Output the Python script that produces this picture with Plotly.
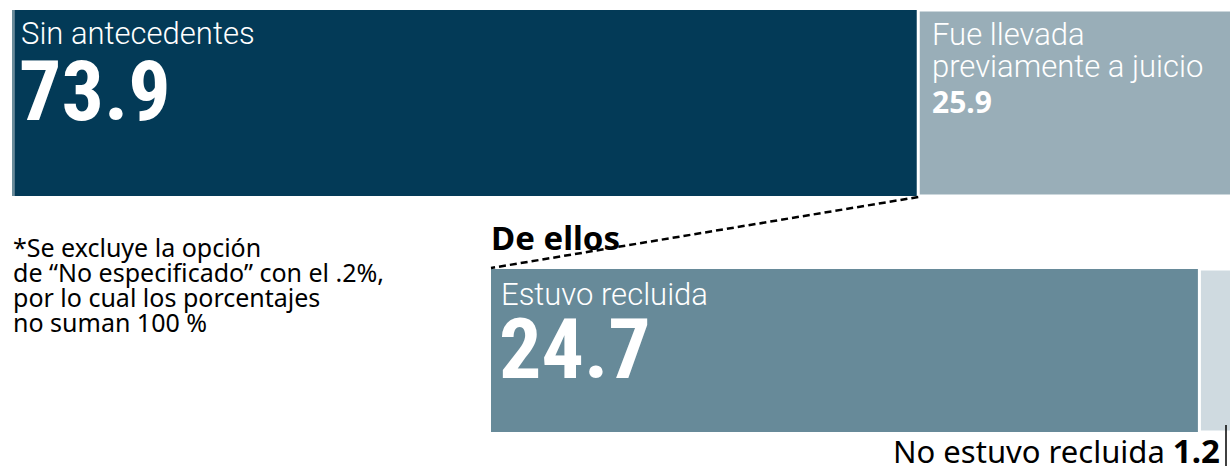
import plotly.graph_objects as go

W, H = 1230, 476

# ---- data ----
top_labels = ["No especificado", "Sin antecedentes", "Fue llevada previamente a juicio"]
top_values = [0.2, 73.9, 25.9]
top_colors = ["#6b8c9a", "#033a57", "#99aeb8"]

sub_labels = ["Estuvo recluida", "No estuvo recluida"]
sub_values = [24.7, 1.2]
sub_colors = ["#678a99", "#cfdae0"]

note_lines = ["*Se excluye la opción",
              "de “No especificado” con el .2%,",
              "por lo cual los porcentajes",
              "no suman 100 %"]

# ---- layout geometry (pixels) ----
top_x0, top_scale = 12, 12.23      # px of zero, px per unit
sub_x0, sub_scale = 491, 28.68
top_y = (10, 196)
sub_y = (269, 432)

def px(x):
    return x / W

def py(y):
    return 1 - y / H

fig = go.Figure()

base = 0
for lab, v, c in zip(top_labels, top_values, top_colors):
    lw = 3 if lab.startswith("Fue") else 0
    fig.add_trace(go.Bar(y=[0], x=[v], base=[base], orientation="h", width=1,
                         marker=dict(color=c, line=dict(color="white", width=lw)),
                         name=lab, xaxis="x", yaxis="y", hoverinfo="name+x"))
    base += v

base = 0
for lab, v, c in zip(sub_labels, sub_values, sub_colors):
    lw = 3 if lab.startswith("No") else 0
    fig.add_trace(go.Bar(y=[0], x=[v], base=[base], orientation="h", width=1,
                         marker=dict(color=c, line=dict(color="white", width=lw)),
                         name=lab, xaxis="x2", yaxis="y2", hoverinfo="name+x"))
    base += v

ax_common = dict(showgrid=False, zeroline=False, showticklabels=False, ticks="",
                 showline=False, fixedrange=True)
fig.update_layout(
    width=W, height=H,
    margin=dict(l=0, r=0, t=0, b=0),
    paper_bgcolor="white", plot_bgcolor="rgba(0,0,0,0)",
    showlegend=False, barmode="overlay",
    xaxis=dict(domain=[0, 1], range=[-top_x0 / top_scale, (W - top_x0) / top_scale], **ax_common),
    yaxis=dict(domain=[py(top_y[1]), py(top_y[0])], range=[-0.5, 0.5], **ax_common),
    xaxis2=dict(domain=[0, 1], range=[-sub_x0 / sub_scale, (W - sub_x0) / sub_scale],
                anchor="y2", **ax_common),
    yaxis2=dict(domain=[py(sub_y[1]), py(sub_y[0])], range=[-0.5, 0.5], anchor="x2", **ax_common),
)

# dashed connector: from bottom of "Fue llevada" start to top-left of sub bar
conn_x0 = top_x0 + (top_values[0] + top_values[1]) * top_scale
fig.add_shape(type="line", xref="paper", yref="paper",
              x0=px(conn_x0), y0=py(top_y[1] + 1), x1=px(sub_x0), y1=py(sub_y[0] - 1),
              line=dict(color="black", width=2.5, dash="7px,4px"))

# small vertical tick near end
fig.add_shape(type="line", xref="paper", yref="paper",
              x0=px(1226), x1=px(1226), y0=py(425), y1=py(466),
              line=dict(color="black", width=1.5))

SANS = "Noto Sans, Open Sans, sans-serif"
LIGHT = "Roboto, Noto Sans, sans-serif"
NARROW = "Roboto Condensed, Liberation Sans Narrow, sans-serif"

def ann(text, x, yc, size, color="white", family=SANS, weight="normal", xanchor="left"):
    fig.add_annotation(text=text, x=px(x), y=py(yc), xref="paper", yref="paper",
                       xanchor=xanchor, yanchor="middle", showarrow=False,
                       font=dict(size=size, color=color, family=family, weight=weight))

# top bar labels
ann(top_labels[1], 19, 34, 31, family=LIGHT, weight=300)
ann(f"{top_values[1]:.1f}", 17, 92, 84, family=NARROW, weight="bold")
ann("Fue llevada", 930, 35, 31, family=LIGHT, weight=300)
ann("previamente a juicio", 930, 67, 31, family=LIGHT, weight=300)
ann(f"{top_values[2]:.1f}", 930, 101, 30, weight="bold")

# sub bar labels
ann("De ellos", 489, 237, 33, color="black", weight="bold")
ann(sub_labels[0], 499, 294, 31, family=LIGHT, weight=300)
ann(f"{sub_values[0]:.1f}", 497, 349, 84, family=NARROW, weight="bold")
ann(f"{sub_labels[1]} <b><span style='font-size:33px'>{sub_values[1]:.1f}</span></b>",
    1222, 450, 31, color="black", xanchor="right")

# footnote
for i, line in enumerate(note_lines):
    ann(line, 11, 247 + 25 * i, 25, color="black")

fig.write_html("out.html", config={"displayModeBar": False},
               post_script="document.body.style.margin='0';")
